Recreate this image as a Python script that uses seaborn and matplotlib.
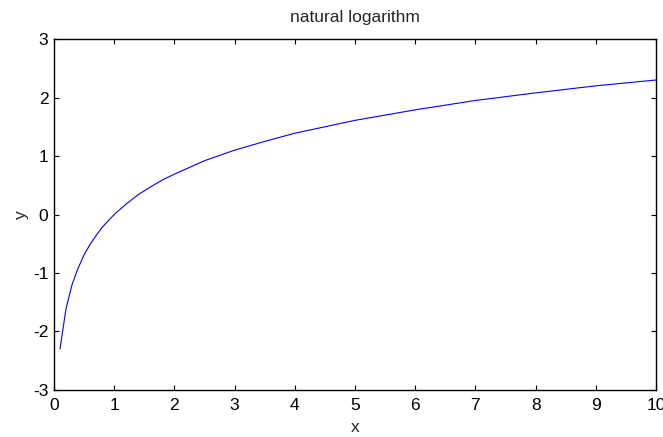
import matplotlib
matplotlib.use("Agg")
import matplotlib.pyplot as plt
import seaborn as sns
import pandas as pd

x_vals = [0.1, 0.2, 0.3, 0.4, 0.5, 0.6, 0.7, 0.8, 0.9, 1.0, 1.2, 1.4, 1.6, 1.8, 2.0,
          2.5, 3.0, 3.5, 4.0, 4.5, 5.0, 6.0, 7.0, 8.0, 9.0, 10.0]
y_vals = [-2.30, -1.61, -1.20, -0.92, -0.69, -0.51, -0.36, -0.22, -0.11, 0.00, 0.18,
          0.34, 0.47, 0.59, 0.69, 0.92, 1.10, 1.25, 1.39, 1.50, 1.61, 1.79, 1.95,
          2.08, 2.20, 2.30]
x_ticks = [0, 1, 2, 3, 4, 5, 6, 7, 8, 9, 10]
y_ticks = [-3, -2, -1, 0, 1, 2, 3]

sns.set_style("ticks")
plt.rcParams['font.family'] = ['Liberation Sans', 'DejaVu Sans']
plt.rcParams['axes.unicode_minus'] = False
plt.rcParams['xtick.direction'] = 'in'
plt.rcParams['ytick.direction'] = 'in'

df = pd.DataFrame({"x": x_vals, "y": y_vals})

fig = plt.figure(figsize=(6.63, 4.37), dpi=100)
ax = fig.add_axes([0.0814, 0.1076, 0.908, 0.803])
sns.lineplot(data=df, x="x", y="y", ax=ax, color=(0, 0, 1), linewidth=0.8)

ax.set_xlim(0, 10)
ax.set_ylim(-3, 3)
ax.set_xticks(x_ticks)
ax.set_yticks(y_ticks)
ax.tick_params(axis='both', which='both', direction='in', length=3.6, width=0.8,
               top=True, right=True, labelsize=12.5, colors='black', pad=4)
ax.tick_params(axis='x', pad=5.5)
for s in ax.spines.values():
    s.set_visible(True)
    s.set_color('black')
    s.set_linewidth(1.0)
ax.set_title("natural logarithm", fontsize=12.5, pad=12)
ax.set_xlabel("x", fontsize=12.5, labelpad=5.5)
ax.set_ylabel("y", fontsize=12.5, labelpad=3)

fig.savefig("out.png", dpi=100)
